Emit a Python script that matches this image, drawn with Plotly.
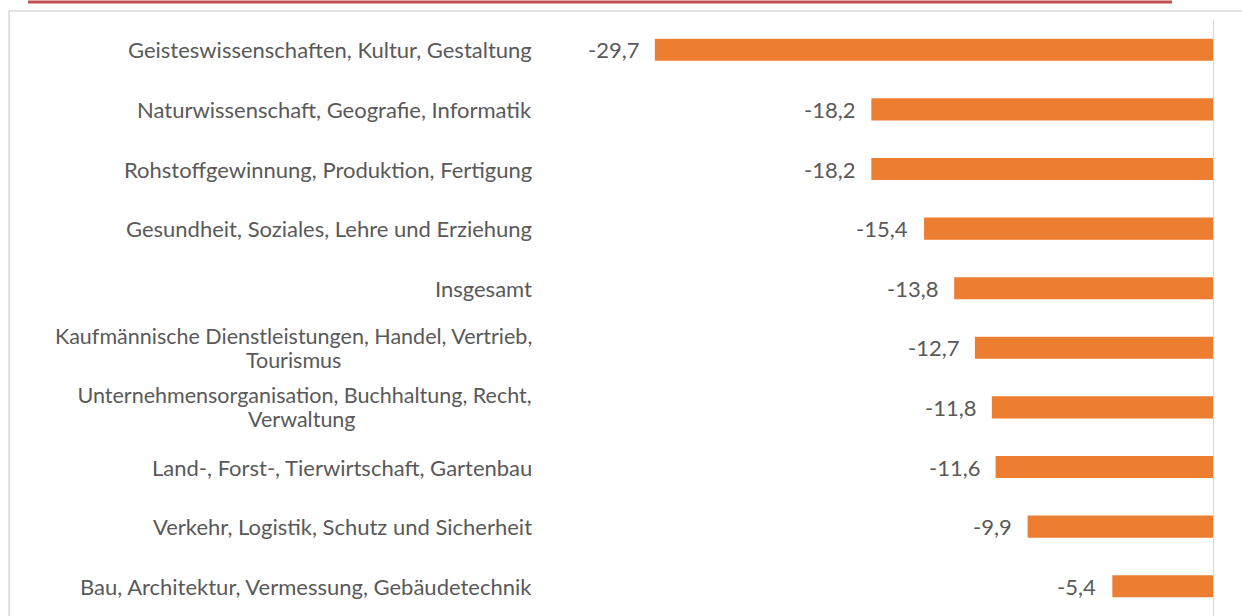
import plotly.graph_objects as go

categories = [
    "Geisteswissenschaften, Kultur, Gestaltung",
    "Naturwissenschaft, Geografie, Informatik",
    "Rohstoffgewinnung, Produktion, Fertigung",
    "Gesundheit, Soziales, Lehre und Erziehung",
    "Insgesamt",
    "Kaufmännische Dienstleistungen, Handel, Vertrieb,<br>Tourismus",
    " Unternehmensorganisation, Buchhaltung, Recht,<br>Verwaltung",
    "Land-, Forst-, Tierwirtschaft, Gartenbau",
    "Verkehr, Logistik, Schutz und Sicherheit",
    "Bau, Architektur, Vermessung, Gebäudetechnik",
]
values = [-29.7, -18.2, -18.2, -15.4, -13.8, -12.7, -11.8, -11.6, -9.9, -5.4]
value_labels = [f"{v:.1f}".replace(".", ",") for v in values]

W, H = 1242, 616
ML, MR, MT, MB = 540, 28, 20, 0
PW = W - ML - MR
PH = H - MT - MB

FONT = "Lato"
TXT = "#595959"
FS = 22

fig = go.Figure()
fig.add_trace(go.Bar(
    y=categories, x=values, orientation="h",
    marker=dict(color="#ED7D31", line=dict(width=0)),
    hoverinfo="skip",
))

annotations = []
for c, v, t in zip(categories, values, value_labels):
    annotations.append(dict(x=v, y=c, xref="x", yref="y", text=t, showarrow=False,
                            xanchor="right", yanchor="middle", xshift=-14,
                            font=dict(family=FONT, size=FS, color=TXT)))
    if "<br>" in c:
        # tighter line spacing (approx. 24 px) while keeping the glyph size
        lines = c.split("<br>")
        txt = "<br>".join(f"<span style='font-size:21.5px'>{ln}</span>" for ln in lines)
        annotations.append(dict(x=0, y=c, xref="paper", yref="y", text=txt, showarrow=False,
                                xanchor="right", yanchor="middle", xshift=-6, align="center",
                                font=dict(family=FONT, size=18.8, color=TXT)))
    else:
        annotations.append(dict(x=0, y=c, xref="paper", yref="y", text=c, showarrow=False,
                                xanchor="right", yanchor="middle", xshift=-6, align="center",
                                font=dict(family=FONT, size=FS, color=TXT)))

def px_x(p):
    return (p - ML) / PW

def px_y(p):
    return 1 - (p - MT) / PH

shapes = [
    dict(type="line", xref="x", yref="paper", x0=0, x1=0, y0=0, y1=1,
         line=dict(color="#D9D9D9", width=2)),
    dict(type="line", xref="paper", yref="paper", x0=px_x(9), x1=px_x(1250), y0=px_y(11), y1=px_y(11),
         line=dict(color="#D9D9D9", width=1.5)),
    dict(type="line", xref="paper", yref="paper", x0=px_x(9), x1=px_x(9), y0=px_y(11), y1=px_y(630),
         line=dict(color="#D9D9D9", width=1.5)),
    dict(type="line", xref="paper", yref="paper", x0=px_x(28), x1=px_x(1172), y0=px_y(2), y1=px_y(2),
         line=dict(color="#C0504D", width=3)),
]

fig.update_layout(
    width=W, height=H,
    margin=dict(l=ML, r=MR, t=MT, b=MB),
    paper_bgcolor="white", plot_bgcolor="white",
    bargap=0.63,
    showlegend=False,
    xaxis=dict(range=[-35.8, 0], visible=False, fixedrange=True),
    yaxis=dict(categoryorder="array", categoryarray=categories, autorange="reversed",
               showticklabels=False, showgrid=False, zeroline=False, showline=False,
               fixedrange=True),
    annotations=annotations,
    shapes=shapes,
)

fig.write_html("out.html", config={"displayModeBar": False},
               post_script="document.body.style.margin='0';document.body.style.padding='0';")
